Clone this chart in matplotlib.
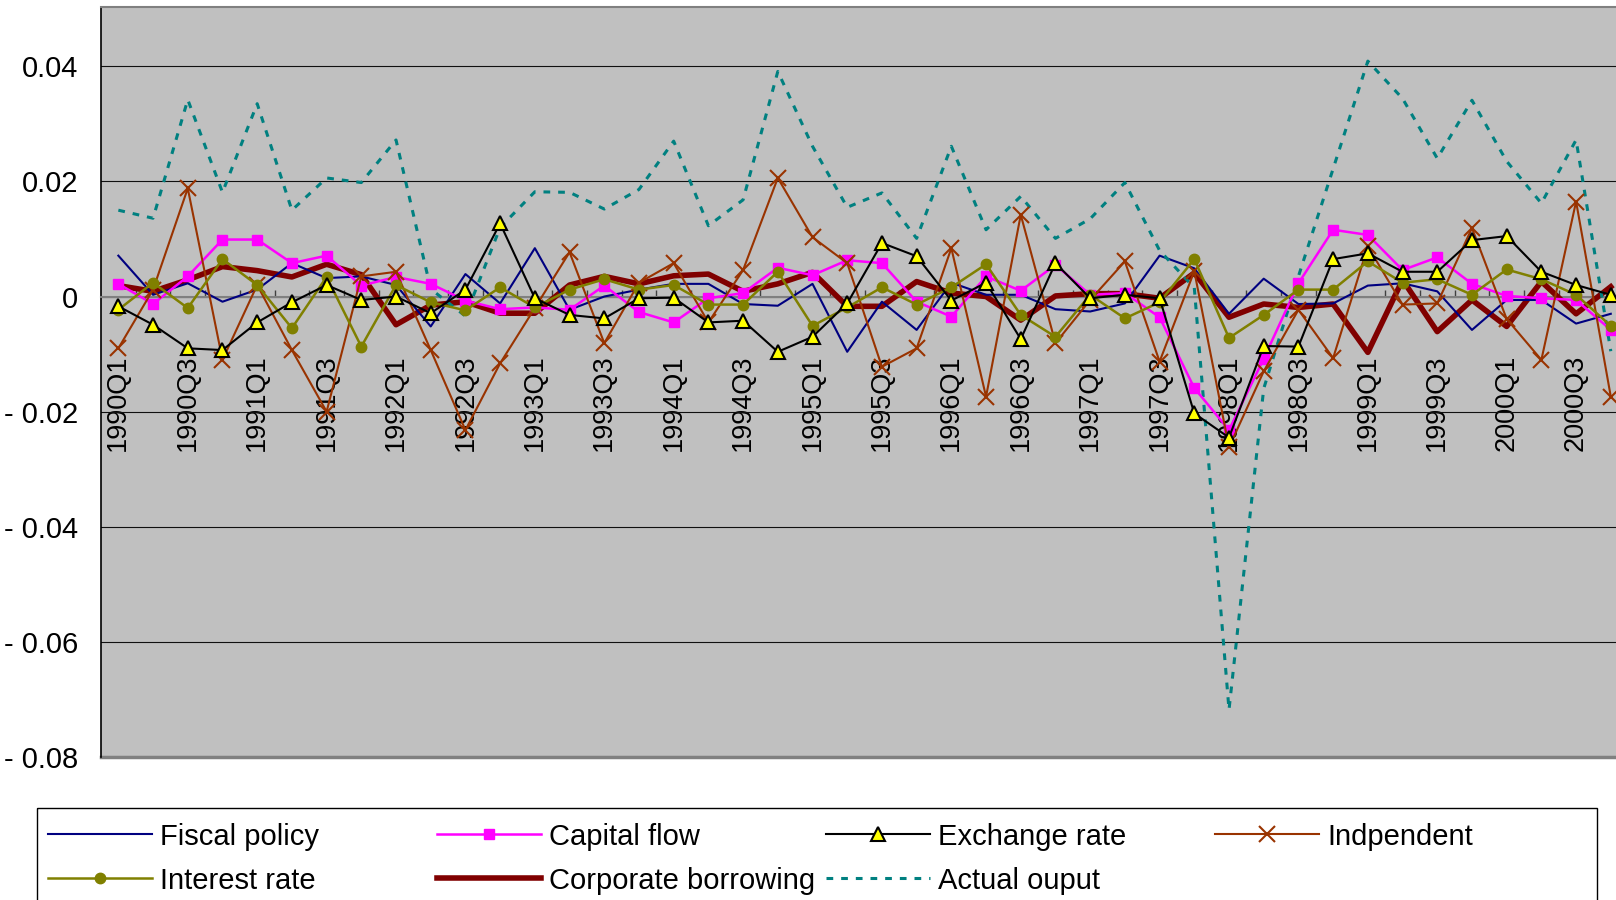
import numpy as np
import matplotlib.pyplot as plt
from matplotlib.patches import Rectangle

plt.rcParams['font.family'] = ['Liberation Sans', 'DejaVu Sans']

# quarterly categories 1990Q1 .. 2000Q4
quarters = [f"{y}Q{q}" for y in range(1990, 2001) for q in range(1, 5)]

fiscal = [0.0071, 0.0003, 0.0023, -0.0009, 0.0012, 0.0058, 0.0032, 0.0035, 0.0020, -0.0052,
          0.0039, -0.0012, 0.0084, -0.0023, 0.0000, 0.0012, 0.0022, 0.0022, -0.0013, -0.0016,
          0.0022, -0.0096, -0.0009, -0.0058, 0.0024, 0.0003, 0.0003, -0.0022, -0.0026, -0.0012,
          0.0071, 0.0049, -0.0030, 0.0031, -0.0013, -0.0012, 0.0019, 0.0023, 0.0009, -0.0058,
          -0.0006, -0.0006, -0.0047, -0.0030]
capital = [0.0022, -0.0013, 0.0035, 0.0099, 0.0099, 0.0058, 0.0071, 0.0019, 0.0034, 0.0022,
           -0.0007, -0.0022, -0.0019, -0.0023, 0.0019, -0.0027, -0.0045, -0.0003, 0.0006, 0.0050,
           0.0037, 0.0063, 0.0058, -0.0009, -0.0035, 0.0035, 0.0010, 0.0055, 0.0003, 0.0006,
           -0.0036, -0.0159, -0.0232, -0.0108, 0.0023, 0.0116, 0.0107, 0.0046, 0.0068, 0.0022,
           0.0001, -0.0003, -0.0006, -0.0058]
exchange = [-0.0017, -0.0049, -0.0090, -0.0093, -0.0045, -0.0010, 0.0020, -0.0006, 0.0000, -0.0029,
            0.0012, 0.0127, -0.0003, -0.0032, -0.0038, -0.0003, -0.0002, -0.0045, -0.0042, -0.0096,
            -0.0070, -0.0012, 0.0093, 0.0070, -0.0007, 0.0024, -0.0074, 0.0058, -0.0003, 0.0003,
            -0.0003, -0.0203, -0.0245, -0.0086, -0.0087, 0.0065, 0.0075, 0.0043, 0.0043, 0.0098,
            0.0105, 0.0043, 0.0020, 0.0003]
indep = [-0.0090, 0.0012, 0.0188, -0.0110, 0.0020, -0.0093, -0.0200, 0.0035, 0.0043, -0.0093,
         -0.0232, -0.0116, -0.0020, 0.0077, -0.0081, 0.0024, 0.0058, -0.0045, 0.0046, 0.0206,
         0.0103, 0.0058, -0.0122, -0.0090, 0.0084, -0.0174, 0.0142, -0.0081, -0.0006, 0.0061,
         -0.0113, 0.0044, -0.0262, -0.0130, -0.0023, -0.0107, 0.0087, -0.0014, -0.0012, 0.0119,
         -0.0039, -0.0110, 0.0165, -0.0174]
interest = [-0.0023, 0.0024, -0.0020, 0.0065, 0.0020, -0.0055, 0.0034, -0.0087, 0.0020, -0.0010,
            -0.0024, 0.0016, -0.0019, 0.0012, 0.0030, 0.0012, 0.0020, -0.0014, -0.0014, 0.0043,
            -0.0051, -0.0019, 0.0016, -0.0014, 0.0016, 0.0056, -0.0032, -0.0070, 0.0003, -0.0038,
            -0.0010, 0.0065, -0.0072, -0.0032, 0.0012, 0.0012, 0.0061, 0.0024, 0.0030, 0.0003,
            0.0047, 0.0030, 0.0003, -0.0051]
corporate = [0.0019, 0.0009, 0.0029, 0.0052, 0.0045, 0.0034, 0.0056, 0.0038, -0.0049, -0.0015,
             -0.0009, -0.0029, -0.0029, 0.0020, 0.0035, 0.0022, 0.0036, 0.0039, 0.0009, 0.0022,
             0.0042, -0.0017, -0.0017, 0.0026, 0.0006, 0.0000, -0.0041, 0.0001, 0.0005, 0.0005,
             -0.0003, 0.0041, -0.0036, -0.0013, -0.0019, -0.0013, -0.0097, 0.0029, -0.0061, -0.0006,
             -0.0052, 0.0026, -0.0030, 0.0017]
actual = [0.0150, 0.0136, 0.0342, 0.0181, 0.0335, 0.0150, 0.0206, 0.0198, 0.0272, 0.0013,
          -0.0034, 0.0120, 0.0182, 0.0181, 0.0152, 0.0186, 0.0270, 0.0123, 0.0168, 0.0391,
          0.0261, 0.0155, 0.0180, 0.0101, 0.0261, 0.0116, 0.0174, 0.0101, 0.0135, 0.0198,
          0.0080, 0.0015, -0.0718, -0.0160, 0.0035, 0.0222, 0.0409, 0.0344, 0.0240, 0.0341,
          0.0235, 0.0162, 0.0272, -0.0095]

yticks = [-0.08, -0.06, -0.04, -0.02, 0, 0.02, 0.04]
ytick_labels = ['- 0.08', '- 0.06', '- 0.04', '- 0.02', '0', '0.02', '0.04']

series = [
    ('Fiscal policy', fiscal, dict(color='#000080', lw=1.5, zorder=3)),
    ('Capital flow', capital, dict(color='#FF00FF', lw=1.8, marker='s', ms=7.5, mew=1, zorder=4)),
    ('Exchange rate', exchange, dict(color='black', lw=1.5, marker='^', ms=9.5, mfc='#FFFF00',
                                     mec='black', mew=1.5, zorder=6)),
    ('Indpendent', indep, dict(color='#993300', lw=1.5, marker='x', ms=12, mew=1.5, zorder=4)),
    ('Interest rate', interest, dict(color='#808000', lw=1.8, marker='o', ms=7.5, mew=1, zorder=5)),
    ('Corporate borrowing', corporate, dict(color='#800000', lw=4, zorder=2.8)),
    ('Actual ouput', actual, dict(color='#008080', lw=2.2, ls=(0, (2.2, 2.6)), zorder=3)),
]

W, H = 1616, 900
fig = plt.figure(figsize=(W / 100, H / 100), dpi=100)
ax = fig.add_axes([101 / W, 1 - 757 / H, 1 - 101 / W, (757 - 7) / H])
ax.set_facecolor('#C0C0C0')

x = np.arange(len(quarters))
for name, vals, style in series:
    ax.plot(x, vals, label=name, **style)

ax.set_xlim(-0.5, 43.15)
ax.set_ylim(-0.08, 0.0503)

# y axis
ax.set_yticks(yticks)
ax.set_yticklabels(ytick_labels, fontsize=21)
ax.tick_params(axis='y', length=0, pad=16.5)
ax.yaxis.grid(True, color='#101010', lw=0.8)
ax.set_axisbelow(True)

# category axis crosses at zero
ax.spines['bottom'].set_position(('data', 0))
ax.spines['bottom'].set_color('#808080')
ax.spines['bottom'].set_linewidth(1.5)
ax.set_xticks(x[::2])
ax.set_xticklabels(quarters[::2], rotation=90, fontsize=19.5)
ax.tick_params(axis='x', which='major', length=0, pad=41.5)
ax.set_xticks(x[:-1] + 0.5, minor=True)
ax.tick_params(axis='x', which='minor', direction='in', length=5, width=1, color='#404040')

ax.spines['right'].set_visible(False)
ax.spines['top'].set_color('#808080')
ax.spines['top'].set_linewidth(1.5)
ax.spines['left'].set_color('black')
ax.spines['left'].set_linewidth(1.2)
ax.axhline(-0.08, color='#808080', lw=2.5, clip_on=False, zorder=2.5)

# legend drawn in pixel coordinates
lax = fig.add_axes([0, 0, 1, 1])
lax.set_xlim(0, W)
lax.set_ylim(H, 0)
lax.axis('off')
lax.add_patch(Rectangle((37, 808), 1560, 120, fill=False, ec='black', lw=1))
col_x = [48, 437, 826, 1215]
row_y = [833.5, 877.5]
slots = [(0, 0), (0, 1), (0, 2), (0, 3), (1, 0), (1, 1), (1, 2)]
for (name, vals, style), (r, c) in zip(series, slots):
    x0, y0 = col_x[c], row_y[r]
    st = dict(style)
    mk = {k: st.pop(k) for k in ['marker', 'ms', 'mfc', 'mec', 'mew'] if k in st}
    lax.plot([x0, x0 + 104], [y0, y0], **st)
    if mk:
        lax.plot([x0 + 52], [y0], ls='none', color=st['color'], zorder=st['zorder'] + 1, **mk)
    lax.text(x0 + 112, y0 + 11.5, name, fontsize=21, va='baseline', ha='left')

fig.savefig('out.png', dpi=100)
